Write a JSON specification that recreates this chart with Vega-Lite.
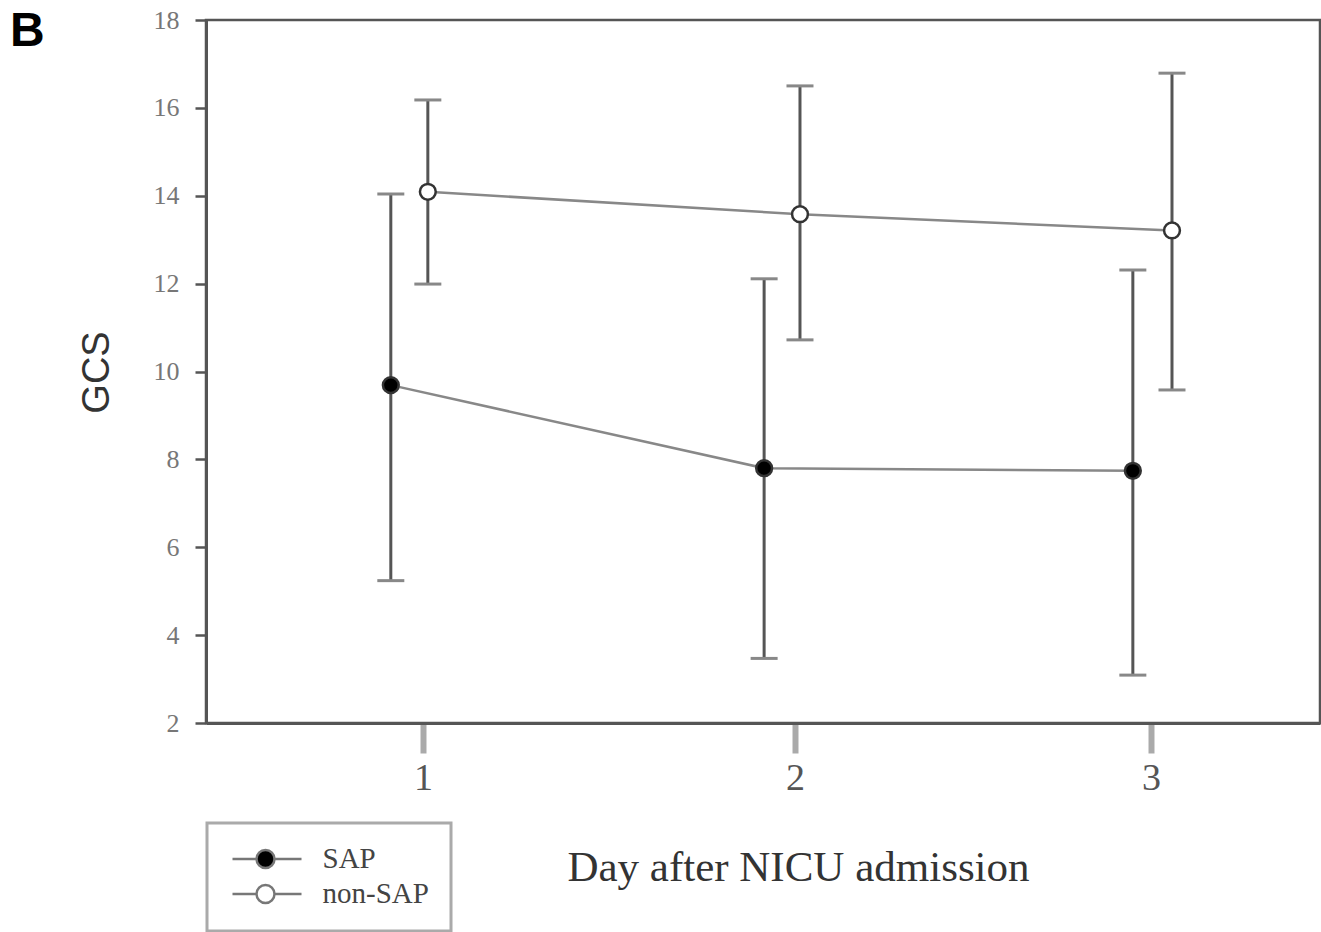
{
  "$schema": "https://vega.github.io/schema/vega-lite/v6.json",
  "autosize": {"type": "none"},
  "padding": {"left": 206, "top": 20, "right": 1, "bottom": 209},
  "width": 1114,
  "height": 703,
  "background": "white",
  "title": {"text": "B", "anchor": "start", "frame": "group", "font": "Liberation Sans", "fontSize": 48, "fontWeight": "bold", "color": "#000000", "offset": 0, "dx": -196, "dy": 87, "baseline": "alphabetic"},
  "config": {
    "view": {"stroke": "#555555", "strokeWidth": 2.5},
    "axis": {"grid": false, "domainColor": "#555555", "domainWidth": 3}
  },
  "data": {"values": [
    {"group": "SAP", "day": 0.911, "mean": 9.69, "lo": 5.24, "hi": 14.04},
    {"group": "SAP", "day": 1.917, "mean": 7.80, "lo": 3.47, "hi": 12.11},
    {"group": "SAP", "day": 2.949, "mean": 7.74, "lo": 3.09, "hi": 12.31},
    {"group": "non-SAP", "day": 1.013, "mean": 14.09, "lo": 11.99, "hi": 16.18},
    {"group": "non-SAP", "day": 2.014, "mean": 13.58, "lo": 10.72, "hi": 16.50},
    {"group": "non-SAP", "day": 3.059, "mean": 13.21, "lo": 9.58, "hi": 16.79}
  ]},
  "encoding": {
    "x": {
      "field": "day", "type": "quantitative",
      "scale": {"domain": [0.4, 1, 2, 3, 3.475], "range": [0, 217, 589, 945, 1114], "nice": false, "zero": false},
      "axis": {
        "values": [1, 2, 3], "format": "d",
        "tickColor": "#aaaaaa", "tickWidth": 6, "tickSize": 30,
        "labelFont": "Liberation Serif", "labelFontSize": 38, "labelColor": "#555555", "labelPadding": 6,
        "title": "Day after NICU admission", "titleFont": "Liberation Serif", "titleFontSize": 43, "titleFontWeight": "normal", "titleColor": "#333333",
        "titleX": 592, "titleY": 157, "titleAlign": "center", "titleBaseline": "alphabetic"
      }
    }
  },
  "layer": [
    {
      "mark": {"type": "line", "color": "#888888", "strokeWidth": 2.5},
      "encoding": {
        "y": {
          "field": "mean", "type": "quantitative", "title": "GCS",
          "scale": {"domain": [2, 18], "nice": false, "zero": false},
          "axis": {
            "values": [2, 4, 6, 8, 10, 12, 14, 16, 18],
            "tickColor": "#555555", "tickWidth": 2.5, "tickSize": 11,
            "labelFont": "Liberation Serif", "labelFontSize": 26, "labelColor": "#777777", "labelPadding": 16,
            "titleFont": "Liberation Sans", "titleFontSize": 38, "titleFontWeight": "normal", "titleColor": "#333333",
            "titleX": -108.5, "titleY": 352, "titleAngle": 270, "titleAlign": "center", "titleBaseline": "middle"
          }
        },
        "detail": {"field": "group", "type": "nominal"}
      }
    },
    {
      "mark": {"type": "rule", "color": "#555555", "strokeWidth": 3},
      "encoding": {
        "y": {"field": "lo", "type": "quantitative", "title": "GCS", "scale": {"domain": [2, 18], "nice": false, "zero": false}},
        "y2": {"field": "hi"}
      }
    },
    {
      "mark": {"type": "tick", "orient": "horizontal", "color": "#888888", "size": 27, "thickness": 3, "opacity": 1},
      "encoding": {
        "y": {"field": "hi", "type": "quantitative", "title": "GCS", "scale": {"domain": [2, 18], "nice": false, "zero": false}}
      }
    },
    {
      "mark": {"type": "tick", "orient": "horizontal", "color": "#888888", "size": 27, "thickness": 3, "opacity": 1},
      "encoding": {
        "y": {"field": "lo", "type": "quantitative", "title": "GCS", "scale": {"domain": [2, 18], "nice": false, "zero": false}}
      }
    },
    {
      "mark": {"type": "point", "shape": "circle", "filled": true, "size": 250, "stroke": "#333333", "strokeWidth": 2.5, "opacity": 1},
      "encoding": {
        "y": {"field": "mean", "type": "quantitative", "title": "GCS", "scale": {"domain": [2, 18], "nice": false, "zero": false}},
        "fill": {
          "field": "group", "type": "nominal",
          "scale": {"domain": ["SAP", "non-SAP"], "range": ["#000000", "#ffffff"]},
          "legend": {
            "orient": "none", "legendX": 1, "legendY": 803, "direction": "vertical", "title": null,
            "padding": 21.5, "strokeColor": "#aaaaaa",
            "symbolType": "M-1.05,0H1.35M3.15,0H5.85M1.35,0A0.9,0.9,0,1,1,3.15,0A0.9,0.9,0,1,1,1.35,0Z",
            "symbolSize": 400, "symbolStrokeColor": "#777777", "symbolStrokeWidth": 2.5, "symbolOpacity": 1,
            "labelFont": "Liberation Serif", "labelFontSize": 29, "labelColor": "#444444", "labelOffset": 65,
            "rowPadding": 5,
            "encode": {"legend": {"update": {"strokeWidth": {"value": 3}}}}
          }
        }
      }
    }
  ]
}
